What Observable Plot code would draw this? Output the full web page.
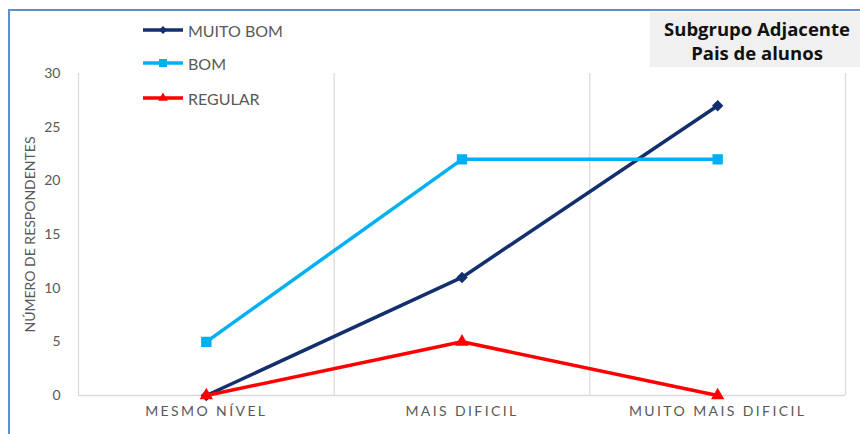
<!DOCTYPE html>
<html>
<head>
<meta charset="utf-8">
<script src="https://cdn.jsdelivr.net/npm/d3@7"></script>
<script src="https://cdn.jsdelivr.net/npm/@observablehq/plot@0.6"></script>
<style>
  html, body { margin: 0; padding: 0; background: #fff; }
  #wrap { position: relative; width: 860px; height: 434px; overflow: hidden; font-family: Lato, "Open Sans", sans-serif; }
  #frame { position: absolute; left: 8px; top: 9px; width: 860px; height: 440px;
           border-left: 2px solid #5b8fd2; border-top: 2px solid #5b8fd2; box-sizing: border-box; }
  #chart { position: absolute; left: 0; top: 0; }
  #legend { position: absolute; left: 143px; top: 0; color: #595959; font-size: 16px; }
  .item { position: absolute; left: 0; height: 20px; display: flex; align-items: center; white-space: nowrap; }
  .item svg { margin-right: 3px; }
  #note { position: absolute; left: 650px; top: 12px; width: 210px; height: 55px; background: #f0f0f0;
          font-weight: bold; font-size: 18.5px; color: #111; text-align: center; line-height: 24px;
          box-sizing: border-box; padding-top: 5px; padding-left: 4px; font-family: "Open Sans", Lato, sans-serif; }
</style>
</head>
<body>
<div id="wrap">
  <div id="frame"></div>
  <div id="chart"></div>
  <div id="legend"></div>
  <div id="note">Subgrupo Adjacente<br>Pais de alunos</div>
</div>
<script>
// Difficulty categories along the x axis
const categories = ["MESMO NÍVEL", "MAIS DIFICIL", "MUITO MAIS DIFICIL"];

// Number of respondents per rating
const muitoBom = [0, 11, 27];
const bom = [5, 22, 22];
const regular = [0, 5, 0];

const seriesNames = ["MUITO BOM", "BOM", "REGULAR"];
const seriesColors = ["#132f6d", "#00b0f0", "#ff0000"];
const seriesSymbols = ["diamond2", "square", "triangle"];
const seriesValues = [muitoBom, bom, regular];

const yTicks = [0, 5, 10, 15, 20, 25, 30];
// Separators between category bands
const bandEdges = [-0.5, 0.5, 1.5, 2.5];

const series = seriesNames.map((name, s) => ({
  name,
  color: seriesColors[s],
  symbol: seriesSymbols[s],
  rows: seriesValues[s].map((v, i) => ({ i, v }))
}));

const markerR = { diamond2: 4.2, square: 5, triangle: 4 };

const lineMarks = series.flatMap(s => [
  Plot.line(s.rows, { x: "i", y: "v", stroke: s.color, strokeWidth: 3.5 }),
  Plot.dot(s.rows, { x: "i", y: "v", fill: s.color, stroke: s.color, symbol: () => s.symbol, r: markerR[s.symbol] })
]);

const chart = Plot.plot({
  width: 860,
  height: 434,
  marginLeft: 78,
  marginRight: 15,
  marginTop: 73,
  marginBottom: 39,
  style: { fontFamily: "Lato, 'Open Sans', sans-serif", fontSize: "14px", color: "#595959", background: "transparent" },
  x: {
    type: "linear",
    domain: [-0.5, 2.5],
    ticks: [0, 1, 2],
    tickFormat: i => categories[i],
    tickSize: 0,
    tickPadding: 11,
    label: null
  },
  y: {
    domain: [0, 30],
    ticks: yTicks,
    tickSize: 0,
    tickPadding: 18,
    label: null
  },
  marks: [
    Plot.ruleX(bandEdges, { stroke: "#d9d9d9", strokeWidth: 1.2 }),
    Plot.ruleY([0], { stroke: "#d9d9d9", strokeWidth: 1.5 }),
    Plot.text(["NÚMERO DE RESPONDENTES"], {
      frameAnchor: "left", textAnchor: "middle", rotate: -90, dx: -48, fontSize: 14, fill: "#595959"
    }),
    ...lineMarks
  ]
});
document.getElementById("chart").appendChild(chart);

// Spaced-out capitals on the category labels
d3.select(chart).selectAll('[aria-label="x-axis tick label"] text, [aria-label="x-axis"] text')
  .style("letter-spacing", "2.4px").style("font-size", "14px");

// Legend at the top left
const legend = d3.select("#legend");
const legendY = [30, 63, 98];
series.forEach((s, k) => {
  const item = legend.append("div").attr("class", "item").style("top", (legendY[k] - 10) + "px");
  const sw = item.append("svg").attr("width", 42).attr("height", 14);
  sw.append("line").attr("x1", 0).attr("x2", 40).attr("y1", 7).attr("y2", 7)
    .attr("stroke", s.color).attr("stroke-width", 3.5);
  const sym = { diamond2: d3.symbolDiamond2, square: d3.symbolSquare, triangle: d3.symbolTriangle }[s.symbol];
  sw.append("path").attr("transform", "translate(20,7)")
    .attr("d", d3.symbol(sym, s.symbol === "square" ? 64 : 40)())
    .attr("fill", s.color);
  item.append("span").text(s.name);
});
</script>
</body>
</html>
